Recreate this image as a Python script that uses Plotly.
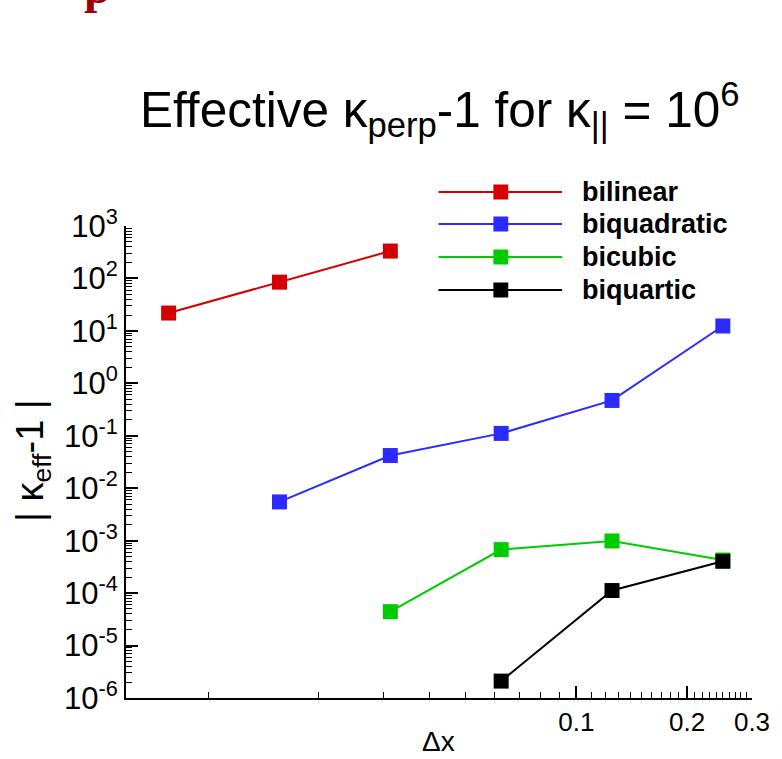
import plotly.graph_objects as go

# ---- data ----
dx = [1/128, 1/64, 1/32, 1/16, 1/8, 1/4]

bilinear_x = [1/128, 1/64, 1/32]
bilinear_y = [21.9, 85.0, 333.0]

biquadratic_x = [1/64, 1/32, 1/16, 1/8, 1/4]
biquadratic_y = [5.48e-3, 4.2e-2, 0.111, 0.472, 12.4]

bicubic_x = [1/32, 1/16, 1/8, 1/4]
bicubic_y = [4.43e-5, 6.76e-4, 9.87e-4, 4.28e-4]

biquartic_x = [1/16, 1/8, 1/4]
biquartic_y = [2.1e-6, 1.12e-4, 4.04e-4]

series_names = ["bilinear", "biquadratic", "bicubic", "biquartic"]
series_colors = ["#d40000", "#2b2bff", "#00cc00", "#000000"]

x_tickvals = [0.1, 0.2, 0.3]
x_ticktext = ["0.1", "0.2", "0.3"]
y_exps = [-6, -5, -4, -3, -2, -1, 0, 1, 2, 3]

# ---- geometry (pixels) ----
W, H = 782, 759
ML, MR, MT, MB = 126, 23, 226, 61
PW = W - ML - MR
PH = H - MT - MB


def px2x(px):
    return (px - ML) / PW


def px2y(py):
    return (H - MB - py) / PH


FONT = "Liberation Sans, Arial, Helvetica, sans-serif"

fig = go.Figure()
data = [(bilinear_x, bilinear_y), (biquadratic_x, biquadratic_y),
        (bicubic_x, bicubic_y), (biquartic_x, biquartic_y)]
for (xs, ys), name, col in zip(data, series_names, series_colors):
    fig.add_trace(go.Scatter(
        x=xs, y=ys, mode="lines+markers", name=name,
        line=dict(color=col, width=2),
        marker=dict(symbol="square", size=15, color=col, line=dict(width=0)),
        showlegend=False,
    ))

x_minor = [i / 100 for i in range(1, 10)] + [i / 100 for i in range(11, 20)] + [i / 100 for i in range(21, 30)]
y_minor = [m * 10.0 ** e for e in range(-6, 3) for m in range(2, 10)]

fig.update_xaxes(
    type="log", range=[-2.223, -0.5229],
    tickmode="array", tickvals=x_tickvals, ticktext=x_ticktext,
    ticks="inside", ticklen=12, tickwidth=2, tickcolor="black",
    showline=True, linewidth=2, linecolor="black", mirror=False,
    showgrid=False, zeroline=False,
    tickfont=dict(family=FONT, size=26, color="black"),
    minor=dict(tickmode="array", tickvals=x_minor, ticks="inside",
               ticklen=6, tickwidth=1, tickcolor="black", showgrid=False),
)
fig.update_yaxes(
    type="log", range=[-6, 3],
    tickmode="array", tickvals=[10.0 ** e for e in y_exps],
    ticktext=["10<sup>%d</sup>" % e for e in y_exps],
    ticks="inside", ticklen=12, tickwidth=2, tickcolor="black",
    showline=True, linewidth=2, linecolor="black", mirror=False,
    showgrid=False, zeroline=False,
    tickfont=dict(family=FONT, size=31, color="black"),
    minor=dict(tickmode="array", tickvals=y_minor, ticks="inside",
               ticklen=6, tickwidth=1, tickcolor="black", showgrid=False),
)

# ---- manual legend ----
legend_rows = [192, 224, 257, 290]
shapes = []
annotations = []
for row, name, col in zip(legend_rows, series_names, series_colors):
    shapes.append(dict(type="line", xref="paper", yref="paper",
                       x0=px2x(442), x1=px2x(567), y0=px2y(row), y1=px2y(row),
                       line=dict(color=col, width=2)))
    shapes.append(dict(type="rect", xref="paper", yref="paper",
                       x0=px2x(497.5), x1=px2x(512.5), y0=px2y(row + 7.5), y1=px2y(row - 7.5),
                       fillcolor=col, line=dict(width=0)))
    annotations.append(dict(text="<b>%s</b>" % name, xref="paper", yref="paper",
                            x=px2x(585), y=px2y(row), xanchor="left", yanchor="middle",
                            showarrow=False,
                            font=dict(family=FONT, size=27, color="black")))

# axis titles
annotations.append(dict(text="Δx", xref="paper", yref="paper",
                        x=px2x(442), y=px2y(741), xanchor="center", yanchor="middle",
                        showarrow=False, font=dict(family=FONT, size=28, color="black")))
annotations.append(dict(text="| κ<sub>eff</sub>-1 |", xref="paper", yref="paper",
                        x=px2x(32), y=px2y(461), xanchor="center", yanchor="middle",
                        textangle=-90, showarrow=False,
                        font=dict(family=FONT, size=38, color="black")))
# title
annotations.append(dict(text="Effective κ<sub>perp</sub>-1 for κ<sub>||</sub> = 10<sup>6</sup>",
                        xref="paper", yref="paper",
                        x=px2x(444), y=px2y(109), xanchor="center", yanchor="middle",
                        showarrow=False, font=dict(family=FONT, size=49.5, color="black")))
# cropped red glyph at top-left corner
annotations.append(dict(text="<b>p</b>", xref="paper", yref="paper",
                        x=px2x(97), y=px2y(-14), xanchor="center", yanchor="middle",
                        showarrow=False,
                        font=dict(family="Liberation Serif, Times New Roman, serif", size=48, color="#a00000")))

fig.update_layout(
    width=W, height=H,
    margin=dict(l=ML, r=MR, t=MT, b=MB, pad=0),
    paper_bgcolor="white", plot_bgcolor="white",
    shapes=shapes, annotations=annotations,
    showlegend=False,
)

fig.write_html("out.html", config={"displayModeBar": False},
               post_script="document.body.style.margin='0';document.body.style.overflow='hidden';")
